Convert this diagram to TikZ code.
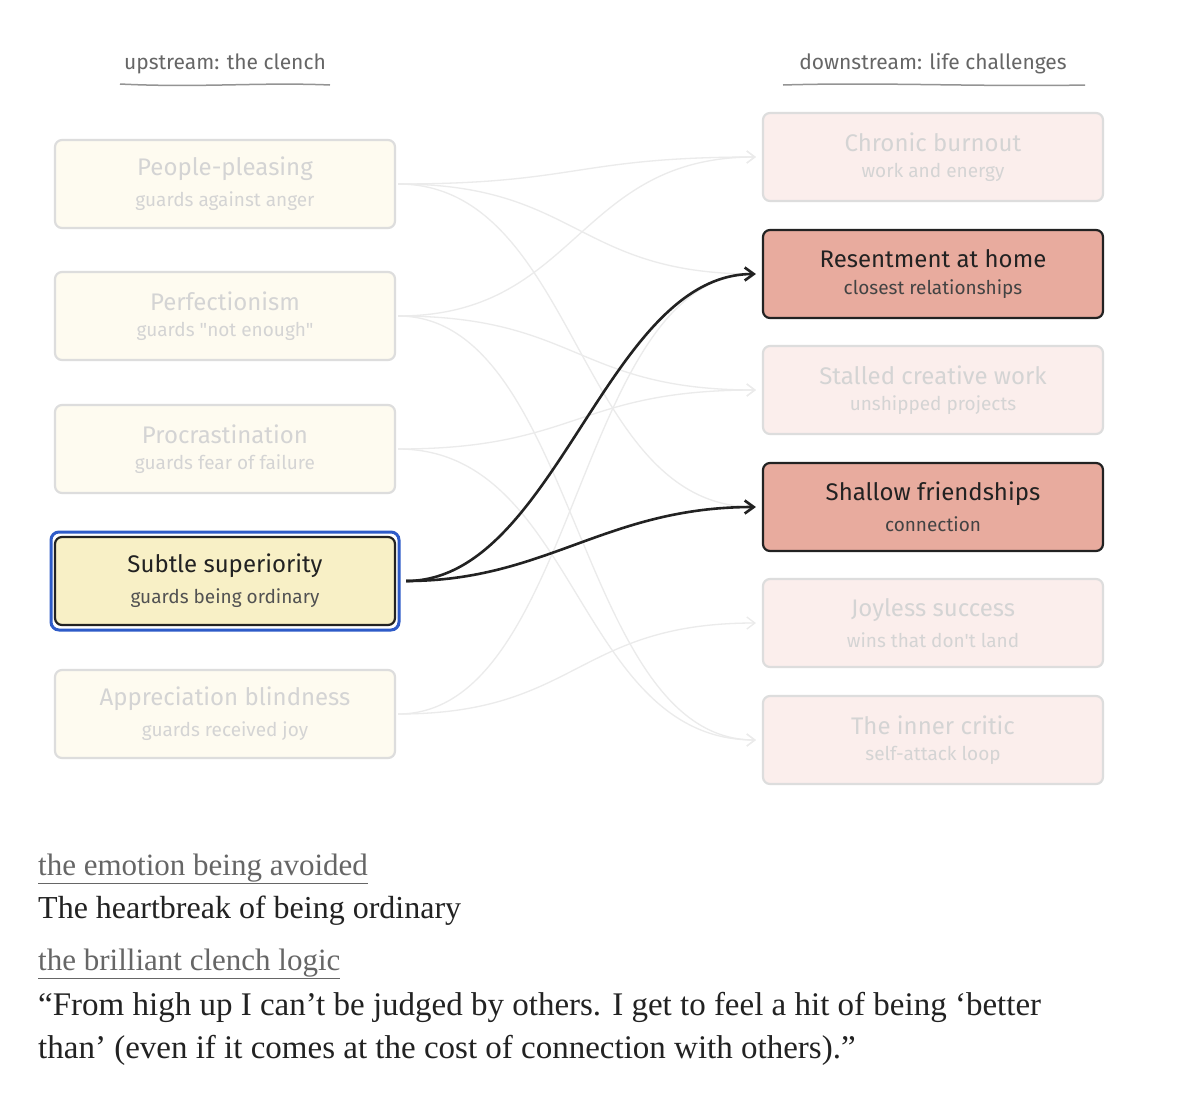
\documentclass[tikz,border=0pt]{standalone}
\usepackage{fontspec}
\setmainfont{Liberation Serif}
\newfontfamily\hand{Fira Sans}
\usetikzlibrary{arrows.meta}
\definecolor{fl}{HTML}{FEFBF0}
\definecolor{fr}{HTML}{FBEEEC}
\definecolor{fb}{HTML}{DDDDDD}
\definecolor{ft}{HTML}{D4D4D4}
\definecolor{hr}{HTML}{E8AB9E}
\definecolor{hy}{HTML}{F8F0C6}
\definecolor{bl}{HTML}{2E5BC8}
\definecolor{ink}{HTML}{222222}
\definecolor{gr}{HTML}{666666}
\begin{document}
\begin{tikzpicture}[x=1pt,y=-1pt,
 box/.style={draw=fb,line width=2.2pt,rounded corners=7pt,minimum width=340pt,minimum height=88pt,align=center,font=\hand},
 lf/.style={box,fill=fl,text=ft},
 rf/.style={box,fill=fr,text=ft},
 hot/.style={box,draw=ink,text=ink},
 faint/.style={draw=black!8,line width=1.3pt,-{Straight Barb[length=8pt,width=12pt]}},
 strong/.style={draw=ink,line width=2.6pt,-{Straight Barb[length=9pt,width=13pt]}}]
\useasboundingbox (0,0) rectangle (1188,1114);
\fill[white] (0,0) rectangle (1188,1114);
\newcommand\bx[2]{{\fontsize{24}{28}\selectfont #1}\\[10pt]{\fontsize{19}{22}\selectfont #2}}
% headers
\node[font=\hand\fontsize{21}{24}\selectfont,text=gr] (hl) at (225,64) {upstream: the clench};
\draw[gr!70,line width=1.5pt] (120,84) .. controls (200,88) and (260,82) .. (330,85);
\node[font=\hand\fontsize{21}{24}\selectfont,text=gr] (hr) at (933,64) {downstream: life challenges};
\draw[gr!70,line width=1.5pt] (783,85) .. controls (880,82) and (980,87) .. (1085,85);
% left boxes
\node[lf] (a) at (225,184) {\bx{People-pleasing}{guards against anger}};
\node[lf] (b) at (225,316) {\bx{Perfectionism}{guards "not enough"}};
\node[lf] (c) at (225,449) {\bx{Procrastination}{guards fear of failure}};
\node[draw=bl,line width=3pt,rounded corners=8pt,minimum width=348pt,minimum height=98pt] (sel) at (225,581) {};
\node[hot,fill=hy] (d) at (225,581) {\bx{Subtle superiority}{\color{gr!80!black}guards being ordinary}};
\node[lf] (e) at (225,714) {\bx{Appreciation blindness}{guards received joy}};
% right boxes
\node[rf] (r1) at (933,157) {\bx{Chronic burnout}{work and energy}};
\node[hot,fill=hr] (r2) at (933,274) {\bx{Resentment at home}{\color{ink!85}closest relationships}};
\node[rf] (r3) at (933,390) {\bx{Stalled creative work}{unshipped projects}};
\node[hot,fill=hr] (r4) at (933,507) {\bx{Shallow friendships}{\color{ink!85}connection}};
\node[rf] (r5) at (933,623) {\bx{Joyless success}{wins that don't land}};
\node[rf] (r6) at (933,740) {\bx{The inner critic}{self-attack loop}};
% faint connectors
\foreach \s/\t in {a/r1,a/r2,a/r4,b/r1,b/r3,b/r6,c/r3,c/r6,e/r5,e/r2}{
 \draw[faint] ([xshift=2pt]\s.east) .. controls +(180,0) and +(-180,0) .. ([xshift=-6pt]\t.west);
}
% strong connectors
\draw[strong] ([xshift=10pt]d.east) .. controls +(150,0) and +(-150,0) .. ([xshift=-6pt]r2.west);
\draw[strong] ([xshift=10pt]d.east) .. controls +(140,0) and +(-150,0) .. ([xshift=-6pt]r4.west);
% bottom text
\node[anchor=base west,font=\fontsize{31}{34}\selectfont,text=gr,inner sep=0] (l1) at (38,875) {\underline{the emotion being avoided}};
\node[anchor=base west,font=\fontsize{32}{36}\selectfont,text=ink,inner sep=0] (t1) at (38,918) {The heartbreak of being ordinary};
\node[anchor=base west,font=\fontsize{31}{34}\selectfont,text=gr,inner sep=0] (l2) at (38,970) {\underline{the brilliant clench logic}};
\node[anchor=base west,font=\fontsize{33}{36}\selectfont,text=ink,inner sep=0] (t2) at (38,1015) {“From high up I can’t be judged by others. I get to feel a hit of being ‘better};
\node[anchor=base west,font=\fontsize{33}{36}\selectfont,text=ink,inner sep=0] (t3) at (38,1058) {than’ (even if it comes at the cost of connection with others).”};
\end{tikzpicture}
\end{document}
